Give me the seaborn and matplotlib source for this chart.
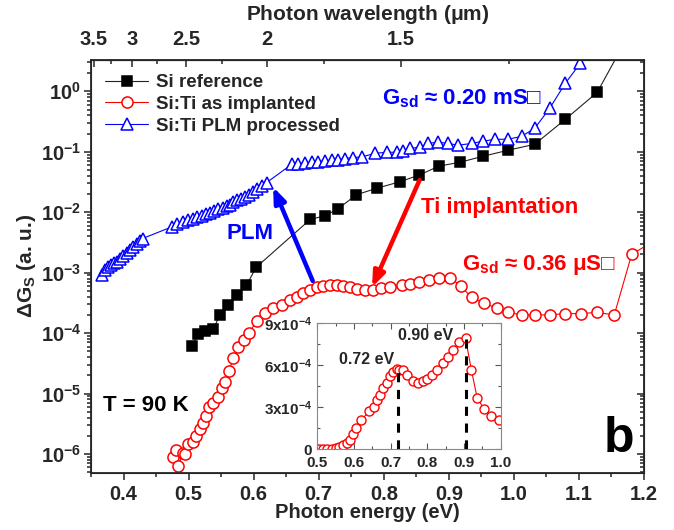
import numpy as np
import matplotlib
matplotlib.use("Agg")
import matplotlib.pyplot as plt
from matplotlib.ticker import MultipleLocator, LogLocator, NullFormatter, FixedLocator
import seaborn as sns

# Si reference (photon energy in eV, dGs in a.u.)
ref_energy = [0.505, 0.515, 0.525, 0.538, 0.548, 0.561, 0.575, 0.589, 0.604,
              0.687, 0.709, 0.729, 0.758, 0.790, 0.825, 0.854, 0.885, 0.917,
              0.952, 0.991, 1.032, 1.079, 1.128, 1.180]
ref_value = [6.2e-5, 9.5e-5, 1.07e-4, 1.15e-4, 2.0e-4, 2.9e-4, 4.3e-4, 6.2e-4, 1.23e-3,
             7.6e-3, 8.7e-3, 1.12e-2, 1.95e-2, 2.5e-2, 3.2e-2, 4.1e-2, 5.8e-2, 6.7e-2,
             8.4e-2, 0.106, 0.133, 0.344, 0.96, 10.0]

# Si:Ti as implanted
imp_energy = [0.4756, 0.4807, 0.4842, 0.491, 0.4945, 0.4996, 0.507, 0.511, 0.5175,
              0.5226, 0.5268, 0.532, 0.538, 0.5457, 0.551, 0.556, 0.562, 0.569,
              0.5764, 0.5852, 0.5933, 0.6047, 0.6175, 0.630, 0.6431, 0.6559, 0.6662,
              0.6763, 0.6866, 0.6969, 0.707, 0.7174, 0.7276, 0.7378, 0.7481, 0.7584,
              0.7711, 0.783, 0.796, 0.810, 0.8276, 0.8404, 0.8546, 0.870, 0.8854,
              0.9018, 0.9183, 0.9352, 0.954, 0.9736, 0.9914, 1.0129, 1.0325, 1.0555,
              1.0786, 1.1027, 1.1273, 1.1543, 1.181, 1.21]
imp_value = [8.9e-7, 1.17e-6, 6.3e-7, 1.02e-6, 1.0e-6, 1.45e-6, 1.6e-6, 2.0e-6, 2.6e-6,
             3.2e-6, 4.3e-6, 6.0e-6, 7.1e-6, 8.9e-6, 1.23e-5, 1.58e-5, 2.4e-5, 3.8e-5,
             5.8e-5, 7.7e-5, 1.01e-4, 1.6e-4, 2.17e-4, 2.6e-4, 2.9e-4, 3.5e-4, 4.0e-4,
             4.6e-4, 5.1e-4, 5.7e-4, 6.05e-4, 6.3e-4, 6.2e-4, 6.0e-4, 5.7e-4, 5.3e-4,
             5.1e-4, 5.2e-4, 5.5e-4, 5.9e-4, 6.2e-4, 6.6e-4, 7.0e-4, 7.5e-4, 8.3e-4,
             8.3e-4, 6.0e-4, 3.9e-4, 3.1e-4, 2.6e-4, 2.2e-4, 2.0e-4, 2.0e-4, 2.0e-4,
             2.1e-4, 2.1e-4, 2.2e-4, 2.0e-4, 2.0e-3, 3.1e-3]

# Si:Ti PLM processed
plm_energy = [0.3664, 0.3715, 0.3766, 0.3803, 0.3854, 0.3895, 0.3946, 0.3997, 0.4049,
              0.4099, 0.415, 0.4203, 0.4253, 0.4294,
              0.474, 0.4827, 0.4919, 0.4996, 0.5072, 0.5134, 0.5201, 0.5268, 0.5329,
              0.5391, 0.5457, 0.5524, 0.5586, 0.5637, 0.5687, 0.574, 0.5801, 0.5867,
              0.5933, 0.5995, 0.6056, 0.6124, 0.6201,
              0.6585, 0.6687, 0.6789, 0.6892, 0.6994, 0.7097, 0.720, 0.7301, 0.7404,
              0.7532, 0.766, 0.787, 0.805, 0.820, 0.830, 0.840, 0.856, 0.868, 0.883,
              0.899, 0.914, 0.936, 0.952, 0.971, 0.991, 1.012, 1.032, 1.055, 1.079, 1.102]
plm_log = [-3.041, -2.959, -2.904, -2.876, -2.848, -2.821, -2.766, -2.727, -2.683,
           -2.628, -2.574, -2.518, -2.474, -2.435,
           -2.243, -2.198, -2.16, -2.132, -2.104, -2.077, -2.061, -2.033, -2.005,
           -1.979, -1.955, -1.922, -1.896, -1.873, -1.83, -1.802, -1.774, -1.747,
           -1.707, -1.664, -1.608, -1.57, -1.509,
           -1.207, -1.195, -1.185, -1.174, -1.162, -1.152, -1.14, -1.129, -1.112,
           -1.096, -1.085, -1.025, -1.008, -1.008, -0.99, -0.942, -0.926, -0.86, -0.843,
           -0.86, -0.893, -0.86, -0.826, -0.793, -0.793, -0.744, -0.612, -0.281, 0.132, 0.463]
plm_value = [10 ** v for v in plm_log]

# inset: Si:Ti as implanted, linear scale
ins_energy = [0.5055, 0.516, 0.527, 0.539, 0.55, 0.56, 0.571, 0.58, 0.589, 0.598,
              0.605, 0.619, 0.642, 0.655, 0.664, 0.671, 0.68, 0.689, 0.698, 0.707,
              0.716, 0.722, 0.733, 0.745, 0.76, 0.775, 0.787, 0.80, 0.814, 0.827,
              0.842, 0.857, 0.871, 0.887, 0.904, 0.92, 0.936, 0.955, 0.973, 0.994]
ins_value = [0.05, 0.05, 0.05, 0.05, 0.07, 0.14, 0.29, 0.43, 0.67, 1.1,
             1.5, 2.1, 2.7, 3.05, 3.5, 3.9, 4.36, 4.76, 5.24, 5.55,
             5.71, 5.67, 5.67, 5.31, 4.9, 4.71, 4.9, 5.0, 5.31, 5.67,
             6.14, 6.62, 7.1, 7.69, 7.93, 5.67, 3.64, 2.88, 2.38, 2.1]
ins_value = [v * 1e-4 for v in ins_value]
peaks = [0.72, 0.905]
peak_top = [5.75e-4, 7.93e-4]

sns.set_style("ticks")
plt.rcParams['font.family'] = ['Liberation Sans', 'DejaVu Sans']
plt.rcParams['font.weight'] = 'bold'
plt.rcParams['axes.labelweight'] = 'bold'
plt.rcParams['mathtext.fontset'] = 'custom'
plt.rcParams['mathtext.rm'] = 'Liberation Sans:bold'
plt.rcParams['mathtext.it'] = 'Liberation Sans:bold'
plt.rcParams['mathtext.bf'] = 'Liberation Sans:bold'
plt.rcParams['mathtext.default'] = 'rm'

fig = plt.figure(figsize=(6.74, 5.30), dpi=100)
ax = fig.add_axes([0.135, 0.1081, 0.8205, 0.7787])

series = [
    (ref_energy, ref_value, 'Si reference', '#222222', 's', 6.5, 'black', 'black'),
    (imp_energy, imp_value, 'Si:Ti as implanted', 'red', 'o', 8, 'white', 'red'),
    (plm_energy, plm_value, 'Si:Ti PLM processed', 'blue', '^', 8, 'white', 'blue'),
]
handles = []
for xs, ys, name, col, mk, ms, fc, ec in series:
    sns.lineplot(x=xs, y=ys, ax=ax, sort=False, marker=mk, legend=False)
    ln = ax.lines[-1]
    ln.set_color(col)
    ln.set_linewidth(0.8)
    ln.set_markersize(ms)
    ln.set_markerfacecolor(fc)
    ln.set_markeredgecolor(ec)
    ln.set_markeredgewidth(1.1)
    ln.set_label(name)
    handles.append(ln)

ax.set_yscale('log')
ax.set_xlim(0.35, 1.2)
ax.set_ylim(4.9e-7, 3.3)
ax.xaxis.set_major_locator(MultipleLocator(0.1))
ax.xaxis.set_minor_locator(MultipleLocator(0.05))
ax.xaxis.set_major_formatter(plt.FuncFormatter(lambda v, p: f"{v:.1f}"))
ax.yaxis.set_major_locator(LogLocator(base=10, numticks=20))
ax.yaxis.set_minor_locator(LogLocator(base=10, subs=np.arange(2, 10), numticks=20))
ax.yaxis.set_minor_formatter(NullFormatter())
ax.tick_params(which='both', direction='out', top=False, right=False, width=1.1,
               labelsize=14.5)
ax.tick_params(which='major', length=5)
ax.tick_params(which='minor', length=3)
ax.tick_params(axis='x', pad=4)
ax.tick_params(axis='y', pad=2)
for s in ax.spines.values():
    s.set_linewidth(1.3)

ax.set_xlabel('Photon energy (eV)', fontsize=14.5, labelpad=-1)
ax.set_ylabel(r'$\Delta$G$_\mathregular{S}$ (a. u.)', fontsize=15, labelpad=2)

# right axis with inward ticks
ax_r = ax.twinx()
ax_r.set_yscale('log')
ax_r.set_ylim(ax.get_ylim())
ax_r.yaxis.set_major_locator(LogLocator(base=10, numticks=20))
ax_r.yaxis.set_minor_locator(LogLocator(base=10, subs=np.arange(2, 10), numticks=20))
ax_r.tick_params(which='both', direction='in', labelright=False, width=1.1)
ax_r.tick_params(which='major', length=5)
ax_r.tick_params(which='minor', length=3)
ax_r.yaxis.set_minor_formatter(NullFormatter())

# top axis: photon wavelength
conv = lambda v: 1.2398 / np.where(np.abs(v) < 1e-6, 1e-6, v)
ax_t = ax.secondary_xaxis('top', functions=(conv, conv))
ax_t.xaxis.set_major_locator(FixedLocator([3.5, 3, 2.5, 2, 1.5]))
ax_t.xaxis.set_minor_locator(FixedLocator([3.25, 2.75, 2.25, 1.75, 1.25]))
ax_t.xaxis.set_major_formatter(plt.FuncFormatter(lambda v, p: f"{v:g}"))
ax_t.tick_params(which='both', direction='in', width=1.1, labelsize=14.5, pad=8)
ax_t.tick_params(which='major', length=5)
ax_t.tick_params(which='minor', length=3)
ax_t.set_xlabel(r'Photon wavelength ($\mu$m)', fontsize=15, labelpad=7)

ax.legend(handles=handles, loc='upper left', bbox_to_anchor=(0.0, 1.0), frameon=False,
          fontsize=13.5, handlelength=2.3, handletextpad=0.4, labelspacing=0.25,
          borderaxespad=0.35)

# arrows and annotations
ax.annotate('', xy=(0.630, 0.0262), xytext=(0.6908, 7.3e-4),
            arrowprops=dict(arrowstyle='-|>,head_length=0.9,head_width=0.35',
                            color='blue', lw=3.2, shrinkA=0, shrinkB=0))
ax.annotate('', xy=(0.782, 5.75e-4), xytext=(0.855, 0.034),
            arrowprops=dict(arrowstyle='-|>,head_length=0.9,head_width=0.35',
                            color='red', lw=3.2, shrinkA=0, shrinkB=0))
ax.text(0.594, 10 ** -2.35, 'PLM', color='blue', fontsize=16, ha='center', va='center')
ax.text(0.858, 10 ** -1.92, 'Ti implantation', color='red', fontsize=16, ha='left',
        va='center')
ax.text(0.797, 10 ** -0.12, r'G$_\mathregular{sd}$ ≈ 0.20 mS□', color='blue',
        fontsize=16, ha='left', va='center')
ax.text(0.920, 10 ** -2.88, r'G$_\mathregular{sd}$ ≈ 0.36 $\mu$S□', color='red',
        fontsize=16, ha='left', va='center')
ax.text(0.368, 10 ** -5.19, 'T = 90 K', color='black', fontsize=16, ha='left',
        va='center')
ax.text(1.185, 10 ** -5.75, 'b', color='black', fontsize=36, ha='right', va='center')

# inset
ax_in = fig.add_axes([0.4708, 0.1523, 0.2721, 0.2377])
ax_in.set_zorder(5)
sns.lineplot(x=ins_energy, y=ins_value, ax=ax_in, sort=False, marker='o', legend=False)
ln = ax_in.lines[-1]
ln.set_color('red')
ln.set_linewidth(0.8)
ln.set_markersize(6.5)
ln.set_markerfacecolor('white')
ln.set_markeredgecolor('red')
ln.set_markeredgewidth(1.0)
for xp, yp in zip(peaks, peak_top):
    ax_in.plot([xp, xp], [0, yp], color='black', lw=2.2, ls=(0, (3, 2.5)))
ax_in.text(0.71, 6.4e-4, '0.72 eV', fontsize=11.5, ha='right', va='center')
ax_in.text(0.87, 8.1e-4, '0.90 eV', fontsize=11.5, ha='right', va='center')
ax_in.set_xlim(0.5, 1.0)
ax_in.set_ylim(0, 9e-4)
ax_in.xaxis.set_major_locator(MultipleLocator(0.1))
ax_in.xaxis.set_minor_locator(MultipleLocator(0.05))
ax_in.xaxis.set_major_formatter(plt.FuncFormatter(lambda v, p: f"{v:.1f}"))
ax_in.set_yticks([0, 3e-4, 6e-4, 9e-4])
ax_in.set_yticklabels(['0', r'3x10$^{-4}$', r'6x10$^{-4}$', r'9x10$^{-4}$'])
ax_in.yaxis.set_minor_locator(MultipleLocator(1.5e-4))
ax_in.tick_params(which='both', direction='in', top=True, right=True, width=0.8,
                  labelsize=11, color='#555555')
ax_in.tick_params(axis='x', pad=5)
ax_in.tick_params(axis='y', pad=4)
ax_in.tick_params(which='major', length=4)
ax_in.tick_params(which='minor', length=2)
for s in ax_in.spines.values():
    s.set_linewidth(0.8)
    s.set_color('#888888')

fig.savefig('out.png', dpi=100)
